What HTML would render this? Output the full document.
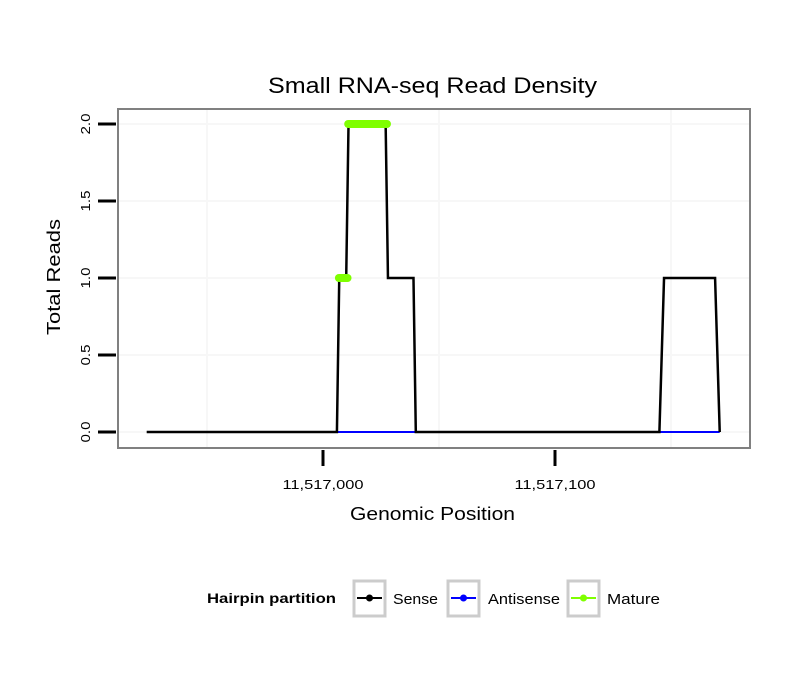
<!DOCTYPE html>
<html><head><meta charset="utf-8"><style>
body{margin:0;background:#fff}
svg{display:block;font-family:"Liberation Sans",sans-serif}
</style></head><body>
<svg id="c" width="810" height="690">
<text x="432.5" y="93" text-anchor="middle" font-size="22" textLength="329" lengthAdjust="spacingAndGlyphs">Small RNA-seq Read Density</text>
<g id="grid"></g>
<g id="series"></g>
<rect x="118" y="109" width="632" height="339" fill="none" stroke="#808080" stroke-width="2"/>
<g id="axes"></g>
<text x="432.5" y="520" text-anchor="middle" font-size="18" textLength="165" lengthAdjust="spacingAndGlyphs">Genomic Position</text>
<text transform="translate(60,277) rotate(-90)" text-anchor="middle" font-size="18" textLength="116" lengthAdjust="spacingAndGlyphs">Total Reads</text>
<g>
<text x="207" y="603" font-size="14" font-weight="bold" textLength="129" lengthAdjust="spacingAndGlyphs">Hairpin partition</text>
<g><rect x="354" y="581" width="31" height="35" fill="#fff" stroke="#ccc" stroke-width="3"/><line x1="357" y1="598" x2="382" y2="598" stroke="#000" stroke-width="2"/><circle cx="369.5" cy="598" r="3.5" fill="#000"/><text x="393" y="604" font-size="15" textLength="45" lengthAdjust="spacingAndGlyphs">Sense</text></g>
<g><rect x="448" y="581" width="31" height="35" fill="#fff" stroke="#ccc" stroke-width="3"/><line x1="451" y1="598" x2="476" y2="598" stroke="#0000ff" stroke-width="2"/><circle cx="463.5" cy="598" r="3.5" fill="#0000ff"/><text x="488" y="604" font-size="15" textLength="72" lengthAdjust="spacingAndGlyphs">Antisense</text></g>
<g><rect x="568" y="581" width="31" height="35" fill="#fff" stroke="#ccc" stroke-width="3"/><line x1="571" y1="598" x2="596" y2="598" stroke="#7fff00" stroke-width="2"/><circle cx="583.5" cy="598" r="3.5" fill="#7fff00"/><text x="607" y="604" font-size="15" textLength="53" lengthAdjust="spacingAndGlyphs">Mature</text></g>
</g>
</svg>
<script>
const senseX=[11516924,11517006,11517007,11517010,11517011,11517027,11517028,11517039,11517040,11517145,11517147,11517169,11517171];
const senseY=[0,0,1,1,2,2,1,1,0,0,1,1,0];
const antiSeg1=[11517006,11517040];
const antiSeg2=[11517145,11517171];
const matureLow=[11517006,11517011];
const matureLowY=1;
const matureHigh=[11517010,11517028];
const matureHighY=2;
const xTicks=[11517000,11517100];
const xTickLabels=["11,517,000","11,517,100"];
const yTicks=[0,0.5,1,1.5,2];
const yTickLabels=["0.0","0.5","1.0","1.5","2.0"];
const NS="http://www.w3.org/2000/svg";
const sx=v=>323+(v-11517000)*2.32;
const sy=v=>432-v*154;
function mk(tag,attrs,parent){const e=document.createElementNS(NS,tag);for(const k in attrs)e.setAttribute(k,attrs[k]);parent.appendChild(e);return e;}
const grid=document.getElementById('grid'),ser=document.getElementById('series'),ax=document.getElementById('axes');
for(let i=0;i<yTicks.length;i++){
 const l=mk('line',{x1:118,x2:750,y1:sy(yTicks[i]),y2:sy(yTicks[i]),stroke:'#f7f7f7','stroke-width':2},grid);
 
 
}
for(const v of [11516950,11517050,11517150]){
 const l=mk('line',{x1:sx(v),x2:sx(v),y1:109,y2:448,stroke:'#f7f7f7','stroke-width':2},grid);
 
 
}
for(const s of [antiSeg1,antiSeg2]){
 const l=mk('line',{x1:sx(s[0]),x2:sx(s[1]),y1:sy(0),y2:sy(0),stroke:'#0000ff','stroke-width':2},ser);
 
 
}
const p=mk('polyline',{points:senseX.map((x,i)=>sx(x)+','+sy(senseY[i])).join(' '),fill:'none',stroke:'#000','stroke-width':2.5},ser);


for(const [s,y] of [[matureLow,matureLowY],[matureHigh,matureHighY]]){
 const l=mk('line',{x1:sx(s[0])+2,x2:sx(s[1])-1,y1:sy(y),y2:sy(y),stroke:'#7fff00','stroke-width':8,'stroke-linecap':'round'},ser);
 
 
}
for(let i=0;i<yTicks.length;i++){
 const y=sy(yTicks[i]);
 const t=mk('line',{x1:98,x2:116,y1:y,y2:y,stroke:'#000','stroke-width':3},ax);
 
 
 const tx=mk('text',{transform:`translate(90,${y}) rotate(-90)`,'text-anchor':'middle','font-size':13,textLength:21,lengthAdjust:'spacingAndGlyphs'},ax);
 tx.textContent=yTickLabels[i];
 
 
}
for(let i=0;i<xTicks.length;i++){
 const x=sx(xTicks[i]);
 const t=mk('line',{x1:x,x2:x,y1:450,y2:466,stroke:'#000','stroke-width':3},ax);
 
 
 const tx=mk('text',{x:x,y:489,'text-anchor':'middle','font-size':13,textLength:81,lengthAdjust:'spacingAndGlyphs'},ax);
 tx.textContent=xTickLabels[i];
 
 
}
</script>
</body></html>
